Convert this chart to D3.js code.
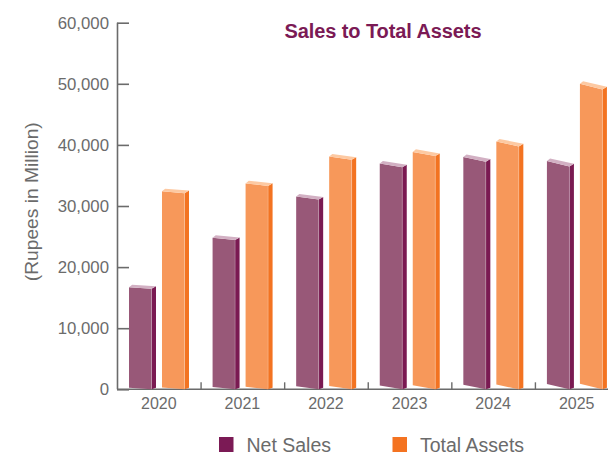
<!DOCTYPE html>
<html>
<head>
<meta charset="utf-8">
<script src="https://cdn.jsdelivr.net/npm/d3@7"></script>
<style>
  html, body { margin: 0; padding: 0; background: #fff; }
  svg { display: block; }
  text { font-family: "Liberation Sans", Arial, Helvetica, sans-serif; }
</style>
</head>
<body>
<svg id="chart" width="608" height="458"></svg>
<script>
// ---- data ----
const years = ["2020", "2021", "2022", "2023", "2024", "2025"];
const seriesNames = ["Net Sales", "Total Assets"];
const netSales = [16700, 24800, 31550, 36950, 38000, 37350];
const totalAssets = [32400, 33700, 38100, 38850, 40550, 50000];
const yTicks = [0, 10000, 20000, 30000, 40000, 50000, 60000];
const titleText = "Sales to Total Assets";
const yLabelText = "(Rupees in Million)";

// ---- styles ----
const palette = {
  "Net Sales":    { front: "#985878", side: "#7a1a52", top: "#d2b0c3", legend: "#7b1a55" },
  "Total Assets": { front: "#f7985a", side: "#f37321", top: "#fdc9a2", legend: "#f47321" }
};
const axisColor = "#6b6b6b";
const textColor = "#6b6b6b";

const svg = d3.select("#chart");

const y = d3.scaleLinear().domain([0, 60000]).range([389.3, 22.7]);
const x0 = d3.scaleBand().domain(years).range([117, 618.5]).padding(0);
const x1 = d3.scaleBand().domain(seriesNames).range([12, 72]).paddingInner(0.1818).paddingOuter(0);

const sideW = 4.5;

// ---- axes ----
const yAxis = d3.axisRight(y).tickValues(yTicks).tickSize(12).tickFormat("");
const gy = svg.append("g").attr("transform", "translate(117,0)").call(yAxis);
gy.select(".domain").attr("stroke", axisColor).attr("stroke-width", 1.6).attr("d", `M0.5,${y(60000)}V${y(0)}`);
gy.selectAll(".tick line").attr("stroke", axisColor).attr("stroke-width", 1.6);

// y tick labels
svg.append("g").selectAll("text").data(yTicks).join("text")
  .attr("x", 109).attr("y", d => y(d)).attr("dy", "0.35em")
  .attr("text-anchor", "end").attr("font-size", 16.8).attr("fill", textColor)
  .text(d => d3.format(",")(d));

// x axis line
svg.append("line").attr("x1", 117).attr("x2", 608).attr("y1", y(0)).attr("y2", y(0))
  .attr("stroke", axisColor).attr("stroke-width", 1.6);

// x tick marks at band boundaries
svg.append("g").selectAll("line").data(years.slice(1)).join("line")
  .attr("x1", d => x0(d) + 0.5).attr("x2", d => x0(d) + 0.5)
  .attr("y1", y(0)).attr("y2", y(0) - 7)
  .attr("stroke", axisColor).attr("stroke-width", 1.4);

// x labels
svg.append("g").selectAll("text").data(years).join("text")
  .attr("x", d => x0(d) + x0.bandwidth() / 2).attr("y", 408.5)
  .attr("text-anchor", "middle").attr("font-size", 16).attr("fill", textColor)
  .text(d => d);

// ---- bars ----
const rows = [];
years.forEach((yr, i) => {
  rows.push({ year: yr, series: "Net Sales", value: netSales[i] });
  rows.push({ year: yr, series: "Total Assets", value: totalAssets[i] });
});

const base = y(0);
const barG = svg.append("g");
rows.forEach(r => {
  const c = palette[r.series];
  const xa = x0(r.year) + x1(r.series);
  const xb = xa + x1.bandwidth() - sideW;
  const cx = (xa + xb) / 2;
  const d = 1.5 + 0.0092 * (cx - 140);
  const yv = y(r.value);
  const lift = 2.6;
  // side face
  barG.append("path").attr("fill", c.side)
    .attr("d", `M${xb},${yv + d}L${xb + sideW},${yv + d - lift}L${xb + sideW},${base - 1.5}L${xb},${base}Z`);
  // front face
  barG.append("path").attr("fill", c.front)
    .attr("d", `M${xa},${yv}L${xb},${yv + d}L${xb},${base}L${xa},${base - d}Z`);
  // top face
  barG.append("path").attr("fill", c.top)
    .attr("d", `M${xa},${yv}L${xa + sideW * 0.7},${yv - lift}L${xb + sideW},${yv + d - lift}L${xb},${yv + d}Z`);
  // subtle edge highlight
  barG.append("line").attr("x1", xb).attr("x2", xb).attr("y1", yv + d).attr("y2", base)
    .attr("stroke", "#ffffff").attr("stroke-opacity", 0.35).attr("stroke-width", 0.6);
});

// ---- title ----
svg.append("text").attr("x", 383).attr("y", 37.5).attr("text-anchor", "middle")
  .attr("font-size", 20).attr("font-weight", "bold").attr("fill", "#7b1a55")
  .attr("letter-spacing", -0.1)
  .text(titleText);

// ---- y axis label ----
svg.append("text").attr("transform", "translate(37.5,201.7) rotate(-90)")
  .attr("text-anchor", "middle").attr("font-size", 19.2).attr("fill", textColor)
  .text(yLabelText);

// ---- legend ----
const legendX = [219, 392.5];
const lg = svg.append("g").selectAll("g").data(seriesNames).join("g")
  .attr("transform", (d, i) => `translate(${legendX[i]},0)`);
lg.append("rect").attr("x", 0).attr("y", 437).attr("width", 14.5).attr("height", 15)
  .attr("fill", d => palette[d].legend);
lg.append("text").attr("x", 27.5).attr("y", 451.5).attr("font-size", 19.5).attr("fill", textColor)
  .text(d => d);
</script>
</body>
</html>
